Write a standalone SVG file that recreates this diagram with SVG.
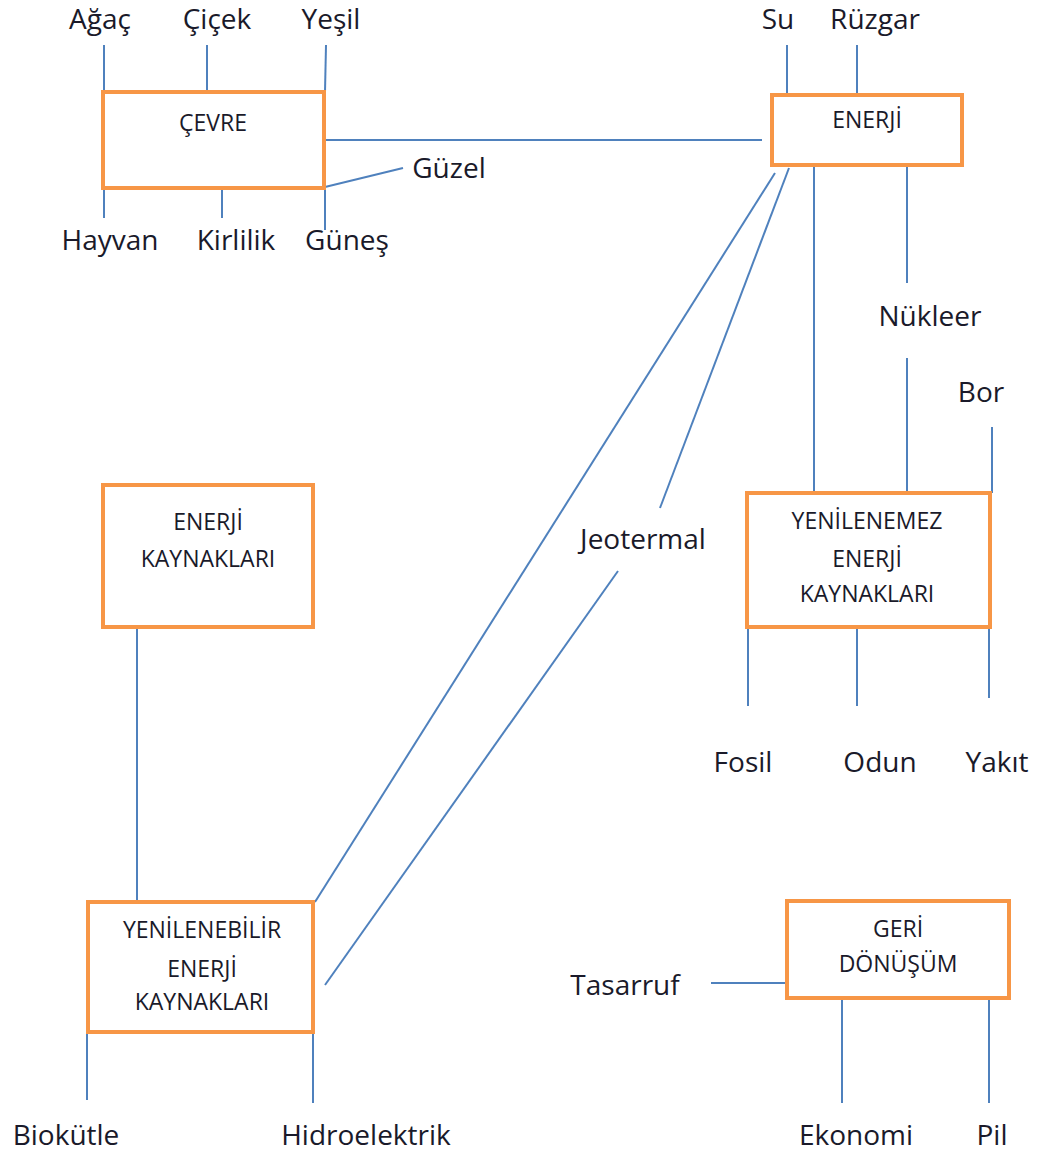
<svg xmlns="http://www.w3.org/2000/svg" width="1043" height="1158" viewBox="0 0 1043 1158">
  <style>
    .box { fill: #ffffff; stroke: #F79646; stroke-width: 4; }
    .link { stroke: #4F81BD; stroke-width: 2; fill: none; stroke-linecap: butt; }
    .title { font-family: "Open Sans", "Liberation Sans", sans-serif; font-size: 23px; fill: #1a1a2a; text-anchor: middle; }
    .label { font-family: "Open Sans", "Liberation Sans", sans-serif; font-size: 28px; fill: #1a1a2a; text-anchor: middle; }
  </style>
  <rect width="1043" height="1158" fill="#ffffff"/>

  <!-- connectors -->
  <g id="connectors">
    <!-- ÇEVRE -->
    <line class="link" x1="104" y1="45" x2="104" y2="92"/>
    <line class="link" x1="207" y1="45" x2="207" y2="92"/>
    <line class="link" x1="326" y1="45" x2="325" y2="92"/>
    <line class="link" x1="104" y1="188" x2="104" y2="218"/>
    <line class="link" x1="222" y1="190" x2="222" y2="218"/>
    <line class="link" x1="325" y1="188" x2="325" y2="230"/>
    <line class="link" x1="325" y1="187" x2="403" y2="168"/>
    <line class="link" x1="326" y1="140" x2="762" y2="140"/>
    <!-- ENERJİ -->
    <line class="link" x1="787" y1="45" x2="787" y2="93"/>
    <line class="link" x1="857" y1="45" x2="857" y2="93"/>
    <line class="link" x1="814" y1="163" x2="814" y2="493"/>
    <line class="link" x1="907" y1="167" x2="907" y2="283"/>
    <line class="link" x1="907" y1="358" x2="907" y2="493"/>
    <line class="link" x1="992" y1="427" x2="992" y2="493"/>
    <line class="link" x1="775" y1="173" x2="315" y2="902"/>
    <line class="link" x1="789" y1="168" x2="660" y2="508"/>
    <line class="link" x1="618" y1="571" x2="325" y2="985"/>
    <!-- ENERJİ KAYNAKLARI to YENİLENEBİLİR -->
    <line class="link" x1="137" y1="629" x2="137" y2="902"/>
    <!-- YENİLENEMEZ -->
    <line class="link" x1="748" y1="629" x2="748" y2="706"/>
    <line class="link" x1="857" y1="629" x2="857" y2="706"/>
    <line class="link" x1="989" y1="629" x2="989" y2="698"/>
    <!-- YENİLENEBİLİR -->
    <line class="link" x1="87" y1="1034" x2="87" y2="1100"/>
    <line class="link" x1="313" y1="1034" x2="313" y2="1103"/>
    <!-- GERİ DÖNÜŞÜM -->
    <line class="link" x1="711" y1="983" x2="787" y2="983"/>
    <line class="link" x1="842" y1="1000" x2="842" y2="1103"/>
    <line class="link" x1="989" y1="1000" x2="989" y2="1103"/>
  </g>

  <g id="cevre">
    <rect class="box" x="103" y="92" width="221" height="96"/>
    <text class="title" x="213" y="131">ÇEVRE</text>
  </g>

  <g id="enerji">
    <rect class="box" x="772" y="95" width="190" height="70"/>
    <text class="title" x="867" y="128">ENERJİ</text>
  </g>

  <g id="enerji-kaynaklari">
    <rect class="box" x="103" y="485" width="210" height="142"/>
    <text class="title" x="208" y="530">ENERJİ</text>
    <text class="title" x="208" y="567">KAYNAKLARI</text>
  </g>

  <g id="yenilenemez">
    <rect class="box" x="747" y="493" width="243" height="134"/>
    <text class="title" x="867" y="529">YENİLENEMEZ</text>
    <text class="title" x="867" y="567">ENERJİ</text>
    <text class="title" x="867" y="602">KAYNAKLARI</text>
  </g>

  <g id="yenilenebilir">
    <rect class="box" x="88" y="902" width="225" height="130"/>
    <text class="title" x="202" y="938">YENİLENEBİLİR</text>
    <text class="title" x="202" y="977">ENERJİ</text>
    <text class="title" x="202" y="1010">KAYNAKLARI</text>
  </g>

  <g id="geri-donusum">
    <rect class="box" x="787" y="901" width="222" height="97"/>
    <text class="title" x="898" y="937">GERİ</text>
    <text class="title" x="898" y="972">DÖNÜŞÜM</text>
  </g>

  <!-- free-standing word labels -->
  <g id="labels">
    <text class="label" x="100" y="29">Ağaç</text>
    <text class="label" x="217" y="29">Çiçek</text>
    <text class="label" x="331" y="29">Yeşil</text>
    <text class="label" x="778" y="29">Su</text>
    <text class="label" x="875" y="29">Rüzgar</text>
    <text class="label" x="110" y="250">Hayvan</text>
    <text class="label" x="236" y="250">Kirlilik</text>
    <text class="label" x="347" y="250">Güneş</text>
    <text class="label" x="449" y="178">Güzel</text>
    <text class="label" x="930" y="326">Nükleer</text>
    <text class="label" x="981" y="402">Bor</text>
    <text class="label" x="643" y="549">Jeotermal</text>
    <text class="label" x="743" y="772">Fosil</text>
    <text class="label" x="880" y="772">Odun</text>
    <text class="label" x="997" y="772">Yakıt</text>
    <text class="label" x="625" y="995">Tasarruf</text>
    <text class="label" x="66" y="1145">Biokütle</text>
    <text class="label" x="366" y="1145">Hidroelektrik</text>
    <text class="label" x="856" y="1145">Ekonomi</text>
    <text class="label" x="992" y="1145">Pil</text>
  </g>
</svg>
